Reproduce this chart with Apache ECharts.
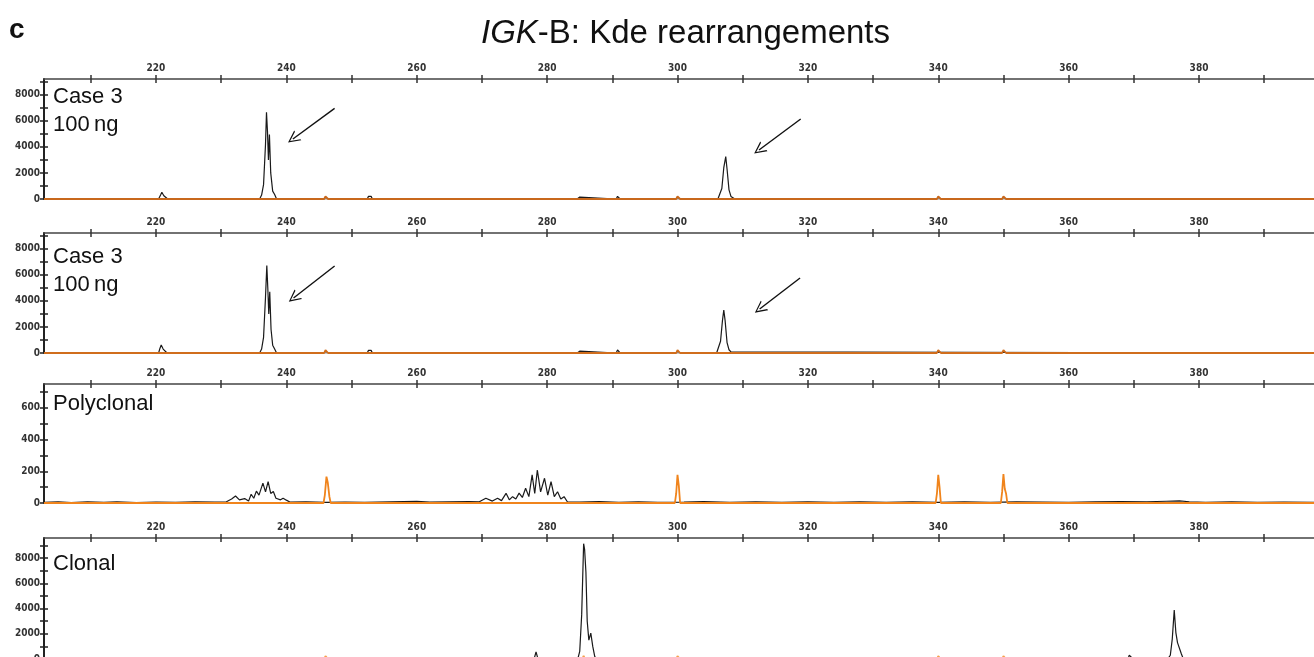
<!DOCTYPE html>
<html>
<head>
<meta charset="utf-8">
<title>IGK-B: Kde rearrangements</title>
<script src="https://cdn.jsdelivr.net/npm/echarts@6/dist/echarts.min.js"></script>
<style>
html, body { margin: 0; padding: 0; background: #fff; }
#main { width: 1314px; height: 657px; }
</style>
</head>
<body>
<div id="main"></div>
<script>
// fragment size axis (bp)
var bpMin = 202.82;
var bpMax = 397.64;
var bpTicks = [210, 220, 230, 240, 250, 260, 270, 280, 290, 300, 310, 320, 330, 340, 350, 360, 370, 380, 390];
var bpLabels = [220, 240, 260, 280, 300, 320, 340, 360, 380];

// panels
var panelNames = ['Case 3\n100\u2009ng', 'Case 3\n100\u2009ng', 'Polyclonal', 'Clonal'];
var panelMax = [9200, 9200, 750, 9600];
var yLabelValues = [
    [0, 2000, 4000, 6000, 8000],
    [0, 2000, 4000, 6000, 8000],
    [0, 200, 400, 600],
    [0, 2000, 4000, 6000, 8000]
];
var yTickValues = [
    [0, 1000, 2000, 3000, 4000, 5000, 6000, 7000, 8000, 9000],
    [0, 1000, 2000, 3000, 4000, 5000, 6000, 7000, 8000, 9000],
    [0, 100, 200, 300, 400, 500, 600, 700],
    [0, 1000, 2000, 3000, 4000, 5000, 6000, 7000, 8000, 9000]
];

// sample traces [bp, RFU]
var case3aTrace = [
    [202.82, 0], [220.4, 0], [220.7, 300], [220.9, 520], [221.2, 250], [221.5, 150], [221.8, 0],
    [232.6, 0], [232.8, 90], [233.0, 0], [233.9, 0], [234.1, 100], [234.3, 0], [235.0, 0], [235.2, 110], [235.4, 0],
    [235.9, 0], [236.2, 300], [236.5, 1100], [236.8, 4200], [236.95, 6650], [237.1, 5200], [237.25, 3000],
    [237.4, 4950], [237.6, 2000], [237.9, 600], [238.2, 350], [238.5, 0],
    [252.4, 0], [252.6, 200], [252.8, 260], [253.0, 200], [253.2, 0],
    [258.5, 0], [258.7, 130], [258.9, 0],
    [284.6, 0], [284.8, 140], [285.0, 150], [285.2, 0],
    [290.6, 0], [290.8, 200], [291.0, 220], [291.2, 0],
    [306.2, 0], [306.5, 150], [306.8, 800], [307.1, 2400], [307.4, 3250], [307.6, 2300], [307.9, 700],
    [308.2, 200], [308.5, 80], [308.8, 0],
    [397.64, 0]
];
var case3bTrace = [
    [202.82, 0], [220.4, 0], [220.6, 350], [220.8, 610], [221.1, 300], [221.4, 150], [221.7, 0],
    [232.6, 0], [232.8, 90], [233.0, 0], [233.9, 0], [234.1, 100], [234.3, 0], [235.0, 0], [235.2, 110], [235.4, 0],
    [235.9, 0], [236.2, 300], [236.5, 1200], [236.8, 4300], [237.0, 6700], [237.15, 5000], [237.3, 3000],
    [237.45, 4700], [237.65, 1800], [237.9, 600], [238.2, 300], [238.5, 0],
    [252.4, 0], [252.6, 200], [252.8, 270], [253.0, 200], [253.2, 0],
    [258.5, 0], [258.7, 140], [258.9, 0],
    [284.6, 0], [284.8, 130], [285.0, 140], [285.2, 0],
    [290.6, 0], [290.8, 240], [291.0, 250], [291.2, 0],
    [306.0, 0], [306.3, 150], [306.6, 900], [306.9, 2500], [307.1, 3300], [307.3, 2500], [307.6, 800],
    [307.9, 250], [308.2, 80], [308.5, 0],
    [397.64, 0]
];
var polyTrace = [
    [202.82, 4], [205, 7], [207, 3], [209.5, 8], [212, 4], [214, 7], [217, 3], [220, 6], [223, 4], [226, 7],
    [229, 5], [230.8, 8], [231.6, 25], [232.2, 44], [232.8, 20], [233.6, 28], [234.2, 12], [234.6, 55],
    [235.0, 30], [235.4, 75], [235.8, 50], [236.4, 125], [236.8, 70], [237.2, 135], [237.6, 60], [238.0, 72],
    [238.4, 30], [238.7, 42], [239.1, 20], [239.5, 30], [240.0, 18], [240.6, 5], [243, 7], [246, 4], [249, 6],
    [252, 4], [256, 7], [260, 10], [262, 5], [265, 7], [268, 9], [269.6, 8], [270.6, 30], [271.6, 12],
    [272.4, 30], [273.0, 15], [273.7, 61], [274.2, 20], [274.7, 40], [275.2, 25], [275.7, 62], [276.2, 35],
    [276.7, 93], [277.2, 40], [277.7, 177], [278.1, 60], [278.5, 208], [279.0, 70], [279.6, 156], [280.1, 50],
    [280.6, 134], [281.1, 40], [281.6, 71], [282.1, 25], [282.6, 40], [283.1, 8], [285, 6], [288, 9],
    [291, 4], [294, 7], [297, 4], [301, 6], [304, 9], [308, 4], [312, 7], [316, 4], [320, 7], [324, 4],
    [328, 7], [332, 4], [336, 8], [340, 4], [344, 7], [348, 4], [352, 7], [356, 6], [360, 4], [364, 7],
    [368, 9], [372, 8], [375, 11], [377, 13], [378.5, 8], [381, 4], [385, 7], [389, 4], [393, 6], [397.64, 4]
];
var clonalTrace = [
    [202.82, 0], [278.0, 0], [278.3, 560], [278.6, 0],
    [283.4, 0], [283.6, 150], [283.9, 0],
    [284.7, 0], [285.0, 600], [285.3, 3500], [285.6, 9150], [285.75, 8700], [285.95, 6900], [286.15, 3000],
    [286.4, 1500], [286.7, 2050], [287.0, 1000], [287.3, 200], [287.6, 0],
    [369.1, 0], [369.3, 300], [369.6, 220], [369.9, 0],
    [375.2, 0], [375.6, 300], [375.9, 1600], [376.2, 3880], [376.45, 2100], [376.7, 1300], [377.0, 1240],
    [377.3, 400], [377.6, 0],
    [397.64, 0]
];

// size standard traces (orange)
var stdTraceA = [
    [202.82, 0], [245.8, 0], [246.0, 200], [246.2, 230], [246.4, 0], [299.8, 0], [300.0, 200], [300.2, 230],
    [300.4, 0], [339.8, 0], [340.0, 200], [340.2, 220], [340.4, 0], [349.8, 0], [350.0, 200], [350.2, 220],
    [350.4, 0], [397.64, 0]
];
var stdTraceB = [
    [202.82, 0], [245.8, 0], [246.0, 220], [246.2, 240], [246.4, 0], [299.8, 0], [300.0, 220], [300.2, 240],
    [300.4, 0], [339.8, 0], [340.0, 220], [340.2, 230], [340.4, 0], [349.8, 0], [350.0, 220], [350.2, 230],
    [350.4, 0], [397.64, 0]
];
var stdTracePoly = [
    [202.82, 0], [245.7, 0], [245.9, 50], [246.15, 166], [246.35, 130], [246.6, 40], [246.8, 0],
    [299.6, 0], [299.8, 60], [300.0, 177], [300.2, 110], [300.4, 0],
    [339.6, 0], [339.8, 60], [340.0, 177], [340.2, 100], [340.4, 0],
    [349.6, 0], [349.8, 70], [350.0, 183], [350.2, 90], [350.4, 60], [350.6, 0], [397.64, 0]
];
var stdTraceClonal = [
    [202.82, 0], [245.8, 0], [246.0, 220], [246.2, 240], [246.4, 0], [285.4, 0], [285.6, 250], [285.8, 0],
    [299.8, 0], [300.0, 220], [300.2, 240], [300.4, 0], [339.8, 0], [340.0, 220], [340.2, 240], [340.4, 0],
    [349.8, 0], [350.0, 220], [350.2, 240], [350.4, 0], [397.64, 0]
];

var sampleTraces = [case3aTrace, case3bTrace, polyTrace, clonalTrace];
var stdTraces = [stdTraceA, stdTraceB, stdTracePoly, stdTraceClonal];
var stdColors = ['#c8681c', '#d06d1c', '#f0841c', '#f6a04a'];

// arrows [fromBp, fromRfu, toBp, toRfu] pointing at the clonal peaks
var arrowsA = [[247.4, 6950, 241.0, 4600], [318.9, 6130, 312.5, 3760]];
var arrowsB = [[247.4, 6670, 241.1, 4220], [318.8, 5750, 312.6, 3370]];
var panelArrows = [arrowsA, arrowsB, [], []];

var gridTops = [79, 233, 384, 538];
var gridHeights = [120, 120, 119, 121];
var labelTops = [83, 243, 390, 550];

var tickFont = "'DejaVu Sans Condensed', 'Liberation Sans Narrow', sans-serif";
var textFont = "'Liberation Sans', Arial, sans-serif";
var chevron = 'path://M0,12 L6,0 L12,12 L10.6,12 L6,2.6 L1.4,12 Z';

var myChart = echarts.init(document.getElementById('main'));

var grids = [], xAxes = [], yAxes = [], series = [], graphics = [];

for (var i = 0; i < 4; i++) {
    grids.push({ left: 44, right: 0, top: gridTops[i], height: gridHeights[i], outerBoundsMode: 'none' });

    // top size axis, ticks crossing the line (outer + inner copy)
    xAxes.push({
        gridIndex: i, type: 'value', position: 'top', min: bpMin, max: bpMax,
        axisLine: { onZero: false, lineStyle: { color: '#444', width: 1.5 } },
        axisTick: { customValues: bpTicks, length: 4, lineStyle: { color: '#333', width: 1.5 } },
        axisLabel: { customValues: bpLabels, margin: 6, fontSize: 10, fontWeight: 'bold', color: '#333', fontFamily: tickFont },
        splitLine: { show: false }
    });
    xAxes.push({
        gridIndex: i, type: 'value', position: 'top', min: bpMin, max: bpMax,
        axisLine: { show: false, onZero: false },
        axisTick: { customValues: bpTicks, inside: true, length: 4, lineStyle: { color: '#333', width: 1.5 } },
        axisLabel: { show: false },
        splitLine: { show: false }
    });

    yAxes.push({
        gridIndex: i, type: 'value', position: 'left', min: 0, max: panelMax[i],
        axisLine: { onZero: false, lineStyle: { color: '#222', width: 2 } },
        axisTick: { customValues: yTickValues[i], length: 4, lineStyle: { color: '#222', width: 1.5 } },
        axisLabel: { customValues: yLabelValues[i], margin: 4, fontSize: 10, fontWeight: 'bold', color: '#333',
            fontFamily: tickFont, formatter: function (v) { return String(v); } },
        splitLine: { show: false }
    });
    yAxes.push({
        gridIndex: i, type: 'value', position: 'left', min: 0, max: panelMax[i],
        axisLine: { show: false, onZero: false },
        axisTick: { customValues: yTickValues[i], inside: true, length: 4, lineStyle: { color: '#222', width: 1.5 } },
        axisLabel: { show: false },
        splitLine: { show: false }
    });

    var arrowData = panelArrows[i].map(function (a) {
        return [{ coord: [a[0], a[1]] }, { coord: [a[2], a[3]] }];
    });

    series.push({
        type: 'line', xAxisIndex: 2 * i, yAxisIndex: 2 * i,
        data: sampleTraces[i], showSymbol: false, animation: false, z: 2,
        lineStyle: { color: '#1a1a1a', width: 1.2 },
        markLine: {
            silent: true, animation: false,
            symbol: ['none', chevron], symbolSize: 12,
            label: { show: false },
            lineStyle: { color: '#111', width: 1.4, type: 'solid' },
            data: arrowData
        }
    });
    series.push({
        type: 'line', xAxisIndex: 2 * i, yAxisIndex: 2 * i,
        data: stdTraces[i], showSymbol: false, animation: false, z: 3,
        lineStyle: { color: stdColors[i], width: 1.8 }
    });

    graphics.push({
        type: 'text', left: 53, top: labelTops[i], z: 10,
        style: { text: panelNames[i], font: '22px ' + textFont, fill: '#111', lineHeight: 28 }
    });
}

var option = {
    backgroundColor: '#fff',
    animation: false,
    title: [
        { text: 'c', left: 9, top: 16, padding: 0,
          textStyle: { fontSize: 28, fontWeight: 'bold', color: '#111', fontFamily: textFont } },
        { text: '{i|IGK}-B: Kde rearrangements', left: 481, top: 17, padding: 0,
          textStyle: { fontSize: 33, fontWeight: 'normal', color: '#111', fontFamily: textFont,
              rich: { i: { fontSize: 33, fontStyle: 'italic', color: '#111', fontFamily: textFont } } } }
    ],
    grid: grids,
    xAxis: xAxes,
    yAxis: yAxes,
    series: series,
    graphic: graphics
};

myChart.setOption(option);
</script>
</body>
</html>
